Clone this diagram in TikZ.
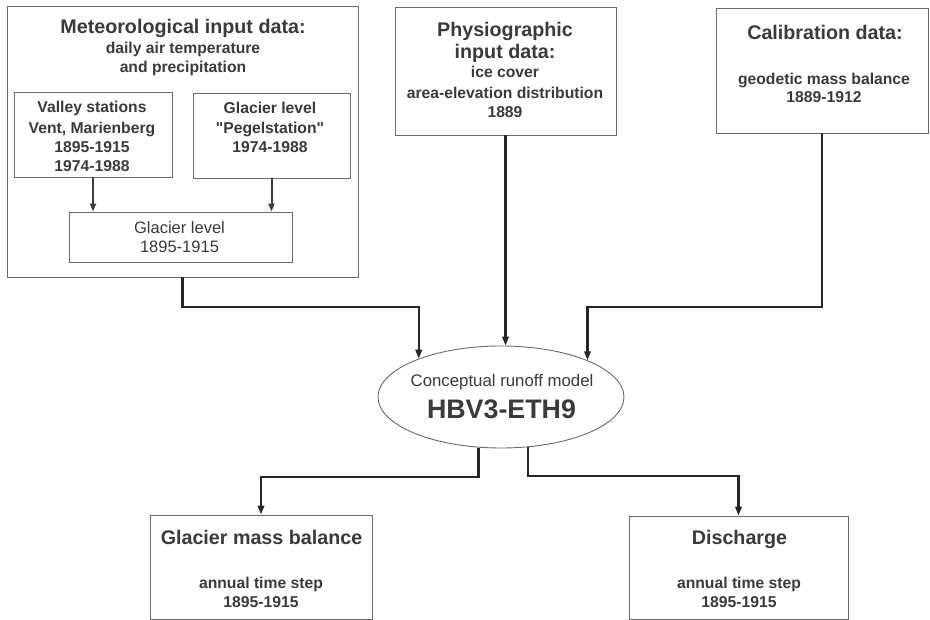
\documentclass[tikz,border=0pt]{standalone}
\usepackage{fontspec}
\setmainfont{Liberation Sans}
\newfontfamily\nomapfont{Liberation Sans}
\usetikzlibrary{arrows.meta,shapes.geometric}
\definecolor{tc}{HTML}{3A3A3A}
\definecolor{bc}{HTML}{6A6A6A}
\definecolor{lc}{HTML}{262626}
\tikzset{
  bx/.style 2 args={draw=bc,line width=0.9pt,rectangle,inner sep=0pt,minimum width=#1pt,minimum height=#2pt},
  txt/.style={inner sep=0pt,anchor=base,text=tc},
  ttl/.style={txt,font=\bfseries\fontsize{19.7}{22}\selectfont},
  sub/.style={txt,font=\bfseries\fontsize{15.7}{18}\selectfont},
  reg/.style={txt,font=\fontsize{16.5}{19}\selectfont},
  conn/.style={draw=lc,line width=2.1pt,-{Triangle[length=9pt,width=6.5pt]}},
  inarr/.style={draw=lc!90,line width=2pt,-{Triangle[length=8pt,width=6pt]}}
}
\begin{document}
\begin{tikzpicture}[x=1pt,y=-1pt]
\useasboundingbox (0,0) rectangle (930,620);
\fill[white] (0,0) rectangle (930,620);
% boxes
\node[bx={351}{271}] (met) at (182.5,141.5) {};
\node[bx={158}{85}] (valley) at (93,134.5) {};
\node[bx={157}{85}] (pegel) at (271.5,135.5) {};
\node[bx={223}{50}] (glev) at (180.5,237) {};
\node[bx={221}{128}] (phys) at (505.5,71) {};
\node[bx={212}{125}] (cal) at (822,70.5) {};
\node[bx={222}{104}] (gmb) at (261,567) {};
\node[bx={219}{103}] (dis) at (738.5,567.5) {};
\node[ellipse,draw=bc,line width=0.9pt,inner sep=0pt,minimum width=246pt,minimum height=102pt] (model) at (501,397) {};
% texts
\node[ttl] (t1) at (183,34) {Meteorological input data:};
\node[sub] (t2) at (183,53.5) {daily air temperature};
\node[sub] (t3) at (183,72.5) {and precipitation};
\node[sub] (t4) at (92,112.5) {Valley stations};
\node[sub] (t5) at (92,133.5) {Vent, Marienberg};
\node[sub] (t6) at (92,152.5) {1895-1915};
\node[sub] (t7) at (92,171.5) {1974-1988};
\node[sub] (t8) at (270,113.5) {Glacier level};
\node[sub] (t9) at (270,133.5) {\nomapfont\bfseries "Pegelstation"};
\node[sub] (t10) at (270,152.5) {1974-1988};
\node[reg] (t11) at (179.5,233.5) {Glacier level};
\node[reg] (t12) at (179.5,252.5) {1895-1915};
\node[ttl] (t13) at (505,37) {Physiographic};
\node[ttl] (t14) at (505,59) {input data:};
\node[sub] (t15) at (505,78) {ice cover};
\node[sub] (t16) at (505,99) {area-elevation distribution};
\node[sub] (t17) at (505,118) {1889};
\node[ttl] (t18) at (825,40) {Calibration data:};
\node[sub] (t19) at (824,84.5) {geodetic mass balance};
\node[sub] (t20) at (824,102.5) {1889-1912};
\node[txt,font=\fontsize{16.8}{19}\selectfont] (t21) at (502,386.5) {Conceptual runoff model};
\node[txt,font=\bfseries\fontsize{26.8}{29}\selectfont] (t22) at (501.5,419) {HBV3-ETH9};
\node[ttl] (t23) at (261.5,544) {Glacier mass balance};
\node[sub] (t24) at (261,588.5) {annual time step};
\node[sub] (t25) at (261,607.5) {1895-1915};
\node[ttl] (t26) at (739.5,544) {Discharge};
\node[sub] (t27) at (739,588.5) {annual time step};
\node[sub] (t28) at (739,607.5) {1895-1915};
% connectors
\draw[inarr] (valley.south) -- (valley.south |- glev.north);
\draw[inarr] (pegel.south) -- (pegel.south |- glev.north);
\draw[conn] (met.south) -- ++(0,30) -| (model.155.6);
\draw[conn] (phys.south) -- (phys.south |- model.north);
\draw[conn] (cal.south) -- ++(0,174) -| (model.23);
\draw[conn] (model.-114.7) -- ++(0,29) -| (gmb.north);
\draw[conn] (model.-62.5) -- ++(0,29) -| (dis.north);
\end{tikzpicture}
\end{document}
